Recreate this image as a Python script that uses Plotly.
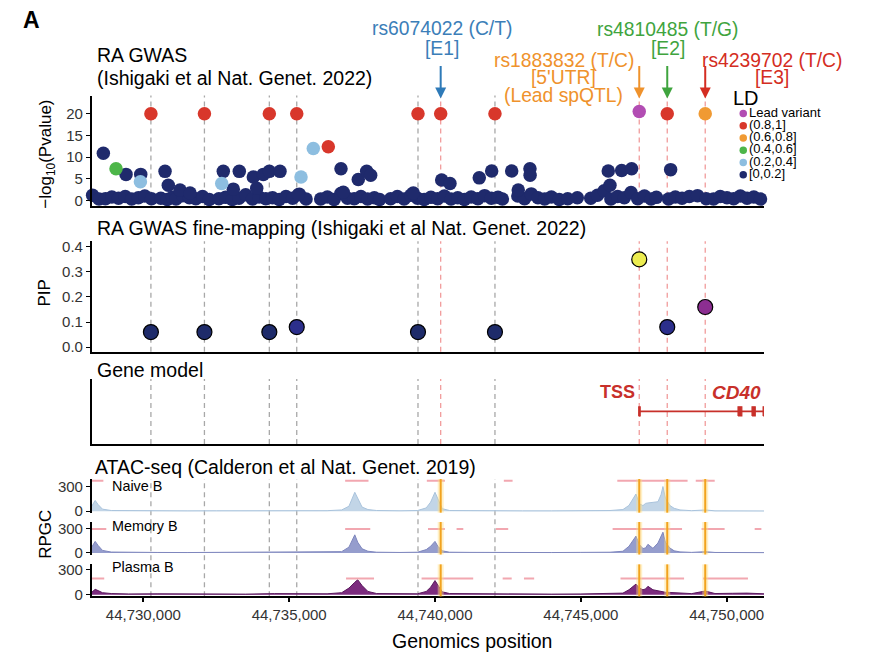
import plotly.graph_objects as go

W, H = 872, 660
FONT = "Liberation Sans, Arial, Helvetica, sans-serif"

# ---------------- data ----------------
# variants marked with dashed lines (bp)
other_snps = [44730260, 44732095, 44734320, 44735260, 44739417, 44742056]
key_snps = [44740195, 44747003, 44747963, 44749265]

# RA GWAS: highlighted variants
gwas_pos = [44728629, 44729064, 44729407, 44729911, 44729900, 44730260, 44730744, 44730857,
            44731258, 44731601, 44732095, 44732742, 44732688, 44733085, 44733291, 44733771,
            44733887, 44734114, 44734320, 44734320, 44734686, 44735260, 44735406, 44735313,
            44735828, 44736342, 44736777, 44736856, 44737370, 44737658, 44737795, 44739256,
            44739417, 44740195, 44740229, 44740514, 44741518, 44741943, 44742056, 44742629,
            44742855, 44743256, 44743260, 44745940, 44745999, 44746400, 44746742, 44747003,
            44747963, 44748079, 44749265]
gwas_logp = [10.9, 7.3, 6.0, 6.0, 4.3, 20, 6.7, 3.5,
             2.4, 1.7, 20, 6.7, 3.9, 2.6, 6.7, 5.4,
             2.8, 6.0, 6.7, 20, 6.7, 20, 5.4, 1.3,
             12.0, 12.4, 7.3, 1.9, 4.8, 6.7, 5.8, 1.7,
             20, 20, 4.7, 3.9, 5.2, 6.8, 20, 6.8,
             2.4, 7.3, 5.8, 6.8, 3.5, 6.9, 7.3, 20.5,
             20, 7.1, 20]
gwas_ld = [5, 3, 5, 5, 4, 1, 5, 5,
           5, 5, 1, 5, 4, 5, 5, 5,
           5, 5, 5, 1, 5, 1, 4, 5,
           4, 1, 5, 5, 5, 5, 5, 5,
           1, 1, 5, 5, 5, 5, 1, 5,
           5, 5, 5, 5, 5, 5, 5, 0,
           1, 5, 2]

# RA GWAS: background variants (LD [0,0.2])
base_pos = [44728260, 44728480, 44728700, 44728920, 44729150, 44729380, 44729600, 44729830, 44730050, 44730280,
            44730600, 44730820, 44731000,
            44731120, 44731350, 44731580, 44731800, 44732030, 44732260,
            44732590, 44732820, 44733050, 44733280, 44733510, 44733740, 44733970, 44734200, 44734430, 44734660,
            44734890, 44735120, 44735350, 44735580,
            44736080, 44736310, 44736540, 44736770, 44737000, 44737230, 44737460, 44737690, 44737920, 44738100,
            44738480, 44738710, 44738940, 44739170, 44739400, 44739630, 44739860, 44740090, 44740320, 44740550,
            44740780, 44741010, 44741240, 44741470, 44741700, 44741930, 44742160, 44742310,
            44742840, 44743070, 44743300, 44743530, 44743760, 44743990, 44744260,
            44744550, 44744880,
            44745340, 44745570, 44745800, 44746030, 44746260, 44746490, 44746720, 44746950, 44747180, 44747410,
            44747590,
            44748010, 44748240, 44748470, 44748720,
            44749000, 44749300,
            44749550, 44749780, 44750010, 44750240, 44750470, 44750700, 44750930, 44751160]
base_logp = [1.2, 0.3, 0.4, 0.8, 0.5, 0.9, 0.3, 0.6, 1.0, 0.4,
             0.5, 0.2, 0.7,
             0.3, 1.1, 0.6, 0.4, 0.9, 0.2,
             0.4, 0.7, 0.2, 0.5, 1.3, 0.3, 0.8, 0.4, 0.6, 0.2,
             0.9, 0.5, 1.4, 0.3,
             0.3, 0.8, 0.2, 1.6, 0.5, 0.4, 0.9, 0.3, 0.6, 0.2,
             0.4, 0.9, 0.3, 1.2, 0.5, 0.2, 0.7, 0.4, 1.0, 0.3,
             0.6, 0.2, 0.8, 0.4, 1.1, 0.5, 0.7, 0.3,
             1.0, 0.4, 1.5, 0.6, 0.3, 0.8, 0.2,
             0.4, 0.6,
             0.5, 1.2, 2.2, 0.3, 0.9, 0.6, 1.8, 0.4, 1.0, 0.3,
             0.7,
             0.3, 0.8, 0.5, 0.9,
             1.1, 0.4,
             0.3, 0.9, 0.6, 0.4, 1.0, 0.5, 0.8, 0.3]

ld_labels = ["Lead variant", "(0.8,1]", "(0.6,0.8]", "(0.4,0.6]", "(0.2,0.4]", "[0,0.2]"]
ld_colors = ["#B24DB3", "#D8372B", "#F09A33", "#4DB649", "#8DBEE0", "#1F2A6C"]

# fine-mapping PIP
pip_pos = [44730260, 44732095, 44734320, 44735260, 44739417, 44742056, 44747003, 44747963, 44749265]
pip_val = [0.06, 0.06, 0.06, 0.08, 0.06, 0.06, 0.35, 0.08, 0.16]

# CD40 gene model
cd40_start = 44747003
cd40_end = 44751400
cd40_exon_start = [44746985, 44750390, 44750870, 44751250]
cd40_exon_end = [44747035, 44750520, 44750980, 44751330]

# ATAC-seq coverage (RPGC)
atac_pos = [44728231, 44728350, 44728450, 44728600, 44728900, 44729500, 44730500, 44731500, 44732500, 44733500,
            44734500, 44735500, 44736300, 44736800, 44737050, 44737250, 44737350, 44737500, 44737700, 44738000,
            44738800, 44739400, 44739700, 44739850, 44740000, 44740100, 44740250, 44740500, 44741200, 44742000,
            44743000, 44744000, 44745000, 44746000, 44746444, 44746650, 44746890, 44747010, 44747130, 44747220,
            44747301, 44747473, 44747644, 44747750, 44747815, 44747900, 44748050, 44748200, 44748400, 44748800,
            44749265, 44749600, 44750200, 44750700, 44751280]
naive_rpgc = [60, 130, 80, 25, 8, 5, 4, 4, 5, 4,
              5, 4, 6, 15, 60, 230, 150, 50, 20, 8,
              5, 8, 40, 110, 230, 150, 30, 8, 5, 4,
              4, 4, 6, 8, 20, 70, 209, 90, 68, 95,
              100, 105, 115, 200, 300, 160, 70, 35, 15, 6,
              15, 4, 4, 4, 3]
memory_rpgc = [70, 140, 90, 30, 10, 6, 5, 4, 5, 4,
               6, 5, 6, 15, 70, 220, 130, 50, 20, 8,
               5, 8, 40, 80, 140, 80, 25, 8, 6, 4,
               4, 4, 6, 8, 20, 80, 204, 100, 53, 60,
               104, 55, 120, 200, 252, 130, 60, 25, 12, 6,
               15, 5, 4, 4, 3]
plasma_rpgc = [30, 65, 50, 25, 15, 10, 12, 8, 10, 8,
               14, 8, 12, 25, 80, 150, 180, 110, 40, 15,
               10, 12, 40, 90, 170, 110, 35, 15, 12, 10,
               10, 8, 10, 12, 20, 60, 128, 80, 60, 70,
               101, 60, 45, 35, 30, 30, 28, 25, 18, 14,
               45, 15, 18, 20, 12]

# ATAC peak calls (start, end)
naive_peaks = [[44728231, 44728630], [44736920, 44737720], [44739720, 44740340], [44742360, 44742660],
               [44746250, 44748660], [44748940, 44749590]]
memory_peaks = [[44728231, 44728730], [44736920, 44737780], [44739760, 44740340], [44740740, 44740970],
                [44742090, 44742510], [44746090, 44748470], [44749140, 44749930], [44750960, 44751190]]
plasma_peaks = [[44728231, 44728660], [44736950, 44737910], [44739540, 44741310], [44742320, 44742630],
                [44743050, 44743400], [44746360, 44748540], [44749190, 44750730]]
peak_level = [370, 290, 195]

tracks = ["Naive B", "Memory B", "Plasma B"]
track_fill = ["#C2D5E7", "#959DCD", "#7B2B7E"]
track_line = ["#A9C3DC", "#7E86BD", "#5A1A5E"]

X_RANGE = [44728230, 44751280]
x_ticks = [44730000, 44735000, 44740000, 44745000, 44750000]


# ---------------- layout helpers (reference pixels -> paper) ----------------
def px_x(px):
    return px / W


def px_y(py):
    return 1 - py / H


x_dom = [px_x(91.7), px_x(764)]
panels = {  # top px, bottom px
    "y": (94, 205.7),
    "y2": (242, 354),
    "y3": (381.7, 447.7),
    "y4": (483.3, 517.5),
    "y5": (527, 560),
    "y6": (570, 602.5),
}

fig = go.Figure()

# GWAS points, navy first so the coloured ones sit on top
all_pos = base_pos + gwas_pos
all_logp = base_logp + gwas_logp
all_ld = [5] * len(base_pos) + gwas_ld
for k in [5, 4, 3, 2, 1, 0]:
    xs = [p for p, l in zip(all_pos, all_ld) if l == k]
    ys = [v for v, l in zip(all_logp, all_ld) if l == k]
    fig.add_trace(go.Scatter(x=xs, y=ys, mode="markers", xaxis="x", yaxis="y",
                             marker=dict(size=13.5, color=ld_colors[k], line=dict(width=0)),
                             cliponaxis=False, showlegend=False, hoverinfo="skip"))

# LD legend, drawn as a small marker+text column on its own axes
fig.add_trace(go.Scatter(x=[0] * len(ld_labels), y=list(range(len(ld_labels))), mode="markers+text",
                         text=ld_labels, textposition="middle right",
                         textfont=dict(family=FONT, size=13, color="black"),
                         marker=dict(size=7.5, color=ld_colors), xaxis="x7", yaxis="y7",
                         cliponaxis=False, showlegend=False, hoverinfo="skip"))

# PIP
fig.add_trace(go.Scatter(x=pip_pos, y=pip_val, mode="markers", xaxis="x2", yaxis="y2",
                         marker=dict(size=15, color=pip_val, cmin=0.06, cmax=0.35,
                                     colorscale=[[0, "#1E2B6A"], [0.07, "#2C2F8D"],
                                                 [0.35, "#8E2E91"], [1, "#ECEC50"]],
                                     line=dict(width=1.2, color="black")),
                         cliponaxis=False, showlegend=False, hoverinfo="skip"))

# gene model
fig.add_trace(go.Scatter(x=[cd40_start, cd40_end], y=[0.5, 0.5], mode="lines", xaxis="x3", yaxis="y3",
                         line=dict(color="#C8302A", width=1.6), showlegend=False, hoverinfo="skip"))
for s, e in zip(cd40_exon_start, cd40_exon_end):
    fig.add_trace(go.Scatter(x=[s, e, e, s, s], y=[0.43, 0.43, 0.57, 0.57, 0.43], mode="lines",
                             fill="toself", fillcolor="#C8302A", xaxis="x3", yaxis="y3",
                             line=dict(color="#C8302A", width=1.2), showlegend=False, hoverinfo="skip"))

# ATAC tracks
signals = [naive_rpgc, memory_rpgc, plasma_rpgc]
peaks = [naive_peaks, memory_peaks, plasma_peaks]
for i in range(3):
    xa, ya = "x%d" % (i + 4), "y%d" % (i + 4)
    fig.add_trace(go.Scatter(x=atac_pos, y=signals[i], mode="lines", fill="tozeroy",
                             fillcolor=track_fill[i], line=dict(color=track_line[i], width=1),
                             xaxis=xa, yaxis=ya, showlegend=False, hoverinfo="skip"))
    seg_x, seg_y = [], []
    for s, e in peaks[i]:
        seg_x += [s, e, None]
        seg_y += [peak_level[i], peak_level[i], None]
    fig.add_trace(go.Scatter(x=seg_x, y=seg_y, mode="lines", line=dict(color="#F2A7B0", width=2),
                             xaxis=xa, yaxis=ya, showlegend=False, hoverinfo="skip"))

# ---------------- vertical marker lines ----------------
shapes = []
dash = "5px,4px"
for n in ["", "2", "3"]:
    for p in other_snps:
        shapes.append(dict(type="line", xref="x" + n, yref="y%s domain" % n, x0=p, x1=p, y0=0, y1=1,
                           line=dict(color="#A8A8A8", width=1.3, dash=dash), layer="below"))
    for p in key_snps:
        shapes.append(dict(type="line", xref="x" + n, yref="y%s domain" % n, x0=p, x1=p, y0=0, y1=1,
                           line=dict(color="#F19C9C", width=1.3, dash=dash), layer="below"))
for p in other_snps:
    shapes.append(dict(type="line", xref="x6", yref="paper", x0=p, x1=p,
                       y0=px_y(panels["y6"][1]), y1=px_y(panels["y4"][0]),
                       line=dict(color="#A8A8A8", width=1.3, dash=dash), layer="below"))
for n in ["4", "5", "6"]:
    for p in key_snps:
        shapes.append(dict(type="line", xref="x" + n, yref="y%s domain" % n, x0=p, x1=p, y0=0, y1=1,
                           line=dict(color="rgba(255,222,130,0.45)", width=6), layer="above"))
        shapes.append(dict(type="line", xref="x" + n, yref="y%s domain" % n, x0=p, x1=p, y0=0, y1=1,
                           line=dict(color="#F2A31E", width=2), layer="above"))

# ---------------- annotations ----------------
ann = []


def text(x, y, t, size=19.5, color="black", xanchor="left", angle=0, **kw):
    ann.append(dict(x=px_x(x), y=px_y(y), xref="paper", yref="paper", text=t, showarrow=False,
                    xanchor=xanchor, yanchor="middle", textangle=angle,
                    font=dict(family=FONT, size=size, color=color), **kw))


text(31.7, 17.5, "<b>A</b>", size=23, xanchor="center")
text(95, 52.5, "RA GWAS")
text(95, 76, "(Ishigaki et al Nat. Genet. 2022)")
text(95, 228, "RA GWAS fine-mapping (Ishigaki et al Nat. Genet. 2022)")
text(95, 373, "Gene model")
text(92.5, 471, "ATAC-seq (Calderon et al Nat. Genet. 2019)")
text(471.7, 648, "Genomics position", xanchor="center")
text(47, 154, "\u2212log<sub>10</sub>(Pvalue)", size=17, xanchor="center", angle=-90)
text(45, 295, "PIP", size=17, xanchor="center", angle=-90)
text(46, 540, "RPGC", size=17, xanchor="center", angle=-90)

# variant labels, one line at a time
label_lines = [
    (442, [(25.5, "rs6074022 (C/T)"), (46, "[E1]")], "#3B7EB8"),
    (563.5, [(58.3, "rs1883832 (T/C)"), (76, "[5'UTR]"), (94, "(Lead spQTL)")], "#EF922C"),
    (667.5, [(26.5, "rs4810485 (T/G)"), (46.5, "[E2]")], "#3FA43E"),
    (771.7, [(58.3, "rs4239702 (T/C)"), (76, "[E3]")], "#D42D22"),
]
for cx, lines, col in label_lines:
    for yy, t in lines:
        text(cx, yy, t, size=19.3, color=col, xanchor="center")
arrow_colors = ["#2E7AB8", "#EF922C", "#3FA43E", "#D42D22"]
for p, c in zip(key_snps, arrow_colors):
    ann.append(dict(x=p, y=px_y(97), xref="x", yref="paper", text="", showarrow=True,
                    ax=0, ay=-34, arrowhead=2, arrowsize=1.1, arrowwidth=2, arrowcolor=c))

text(731, 96, "LD", size=20)

# gene labels
ann.append(dict(x=cd40_start, y=0.8, xref="x3", yref="y3", text="<b>TSS</b>", showarrow=False,
                xanchor="right", xshift=-2, font=dict(family=FONT, size=18, color="#C8302A")))
text(736.7, 395, "<b><i>CD40</i></b>", size=19, color="#C8302A", xanchor="center")

# track names
for name, yy in zip(tracks, [490, 531, 572.5]):
    text(110, yy, name, size=14.4)

# ---------------- axes ----------------
layout = dict(width=W, height=H, margin=dict(l=0, r=0, t=0, b=0),
              paper_bgcolor="white", plot_bgcolor="white",
              font=dict(family=FONT, color="#333333"),
              shapes=shapes, annotations=ann, showlegend=False)

tickfont = dict(family=FONT, size=15, color="#333333")
for i in range(1, 7):
    key = "" if i == 1 else str(i)
    top, bot = panels["y" + key]
    xa = dict(domain=x_dom, range=X_RANGE, anchor="y" + key, showgrid=False, zeroline=False,
              showticklabels=False, ticks="", showline=i in (1, 2, 3, 6), linecolor="black", linewidth=2)
    if i == 6:
        xa.update(showticklabels=True, ticks="outside", ticklen=4, tickwidth=1.5, tickcolor="black",
                  tickvals=x_ticks, tickformat=",d", tickfont=tickfont)
    ya = dict(domain=[px_y(bot), px_y(top)], anchor="x" + key, showgrid=False, zeroline=False,
              showline=True, linecolor="black", linewidth=1.5, ticks="outside", ticklen=4,
              tickwidth=1.3, tickcolor="black", tickfont=tickfont)
    if i == 1:
        ya.update(range=[-1.2, 24.2], tickvals=[0, 5, 10, 15, 20])
    elif i == 2:
        ya.update(range=[-0.018, 0.422], tickvals=[0, 0.1, 0.2, 0.3, 0.4], tickformat=".1f")
    elif i == 3:
        ya.update(range=[0, 1], showticklabels=False, ticks="")
    elif i == 4:
        ya.update(range=[-18, 392], tickvals=[0, 300])
    elif i == 5:
        ya.update(range=[-20, 376], tickvals=[0, 300])
    else:
        ya.update(range=[-19, 364], tickvals=[0, 300])
    layout["xaxis" + key] = xa
    layout["yaxis" + key] = ya

# legend axes: marker column at x=743 px, rows from 112 px downward
layout["xaxis7"] = dict(domain=[px_x(739.5), px_x(747)], range=[-1, 1], visible=False, anchor="y7")
layout["yaxis7"] = dict(domain=[px_y(178), px_y(108.5)], range=[5.3, -0.3], visible=False, anchor="x7")

fig.update_layout(**layout)
fig.write_html("out.html", config={"displayModeBar": False},
               post_script="document.body.style.margin='0';document.body.style.overflow='hidden';")
